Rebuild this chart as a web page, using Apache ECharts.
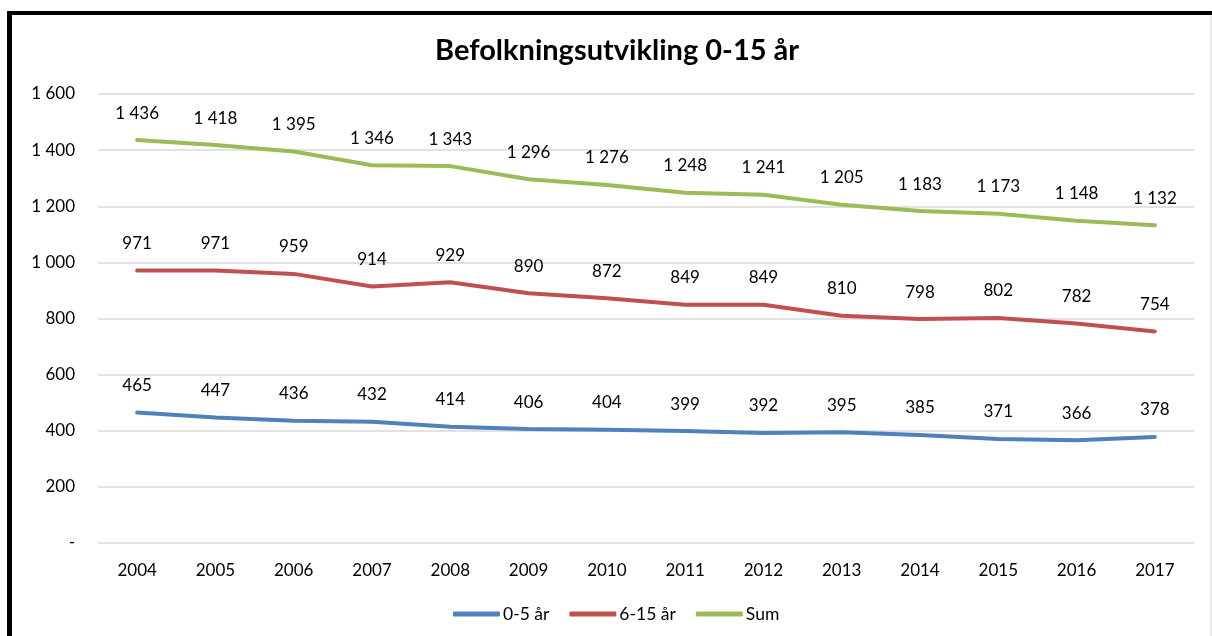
<!DOCTYPE html>
<html>
<head>
<meta charset="utf-8">
<script src="https://cdn.jsdelivr.net/npm/echarts@6/dist/echarts.min.js"></script>
<style>
    html, body { margin: 0; padding: 0; background: #fff; }
    #chart { width: 1212px; height: 636px; }
</style>
</head>
<body>
<div id="chart"></div>
<script>
const years = ["2004", "2005", "2006", "2007", "2008", "2009", "2010", "2011", "2012", "2013", "2014", "2015", "2016", "2017"];
const age0to5 = [465, 447, 436, 432, 414, 406, 404, 399, 392, 395, 385, 371, 366, 378];
const age6to15 = [971, 971, 959, 914, 929, 890, 872, 849, 849, 810, 798, 802, 782, 754];
const sum = [1436, 1418, 1395, 1346, 1343, 1296, 1276, 1248, 1241, 1205, 1183, 1173, 1148, 1132];
const seriesNames = ["0-5 år", "6-15 år", "Sum"];

const FONT = "Lato";
const COLORS = ["#4f81bd", "#c0504d", "#9bbb59"];

// tusenskille med mellomrom, 0 vises som "-"
const fmt = v => (v === 0 ? "-" : String(v).replace(/\B(?=(\d{3})+(?!\d))/g, " "));

const makeSeries = (name, data, color) => ({
    name,
    type: "line",
    data,
    symbol: "circle",
    symbolSize: 1,
    lineStyle: { color, width: 4, cap: "round" },
    itemStyle: { color },
    label: {
        show: true,
        position: "top",
        distance: 18,
        color: "#000",
        fontFamily: FONT,
        fontSize: 17,
        formatter: p => fmt(p.value)
    }
});

const chart = echarts.init(document.getElementById("chart"));
chart.setOption({
    backgroundColor: "#fff",
    animation: false,
    color: COLORS,
    title: {
        text: "Befolkningsutvikling 0-15 år",
        left: 430,
        top: 31,
        textStyle: { fontFamily: FONT, fontSize: 29, fontWeight: "bold", color: "#000" }
    },
    legend: {
        bottom: 8,
        left: 448,
        itemWidth: 47,
        itemHeight: 5,
        itemGap: 20,
        icon: "roundRect",
        textStyle: { fontFamily: FONT, fontSize: 17.5, color: "#000", padding: [0, 0, 0, -2] },
        data: seriesNames
    },
    grid: { left: 98, right: 18, top: 94, bottom: 93 },
    xAxis: {
        type: "category",
        data: years,
        boundaryGap: true,
        axisLine: { show: false },
        axisTick: { show: false },
        axisLabel: { color: "#000", fontFamily: FONT, fontSize: 17, margin: 19 }
    },
    yAxis: {
        type: "value",
        min: 0,
        max: 1600,
        interval: 200,
        axisLine: { show: false },
        axisTick: { show: false },
        splitLine: { lineStyle: { color: "#d9d9d9", width: 1.5 } },
        axisLabel: { color: "#000", fontFamily: FONT, fontSize: 17, margin: 23, formatter: fmt }
    },
    graphic: [
        { type: "line", shape: { x1: 9.5, y1: 11, x2: 9.5, y2: 640 }, style: { stroke: "#000", lineWidth: 5 } },
        { type: "line", shape: { x1: 7, y1: 13, x2: 1212, y2: 13 }, style: { stroke: "#000", lineWidth: 4 } },
        { type: "line", shape: { x1: 1211, y1: 15, x2: 1211, y2: 640 }, style: { stroke: "#d0d0d0", lineWidth: 1 } }
    ],
    series: [
        makeSeries(seriesNames[0], age0to5, COLORS[0]),
        makeSeries(seriesNames[1], age6to15, COLORS[1]),
        makeSeries(seriesNames[2], sum, COLORS[2])
    ]
});
</script>
</body>
</html>
